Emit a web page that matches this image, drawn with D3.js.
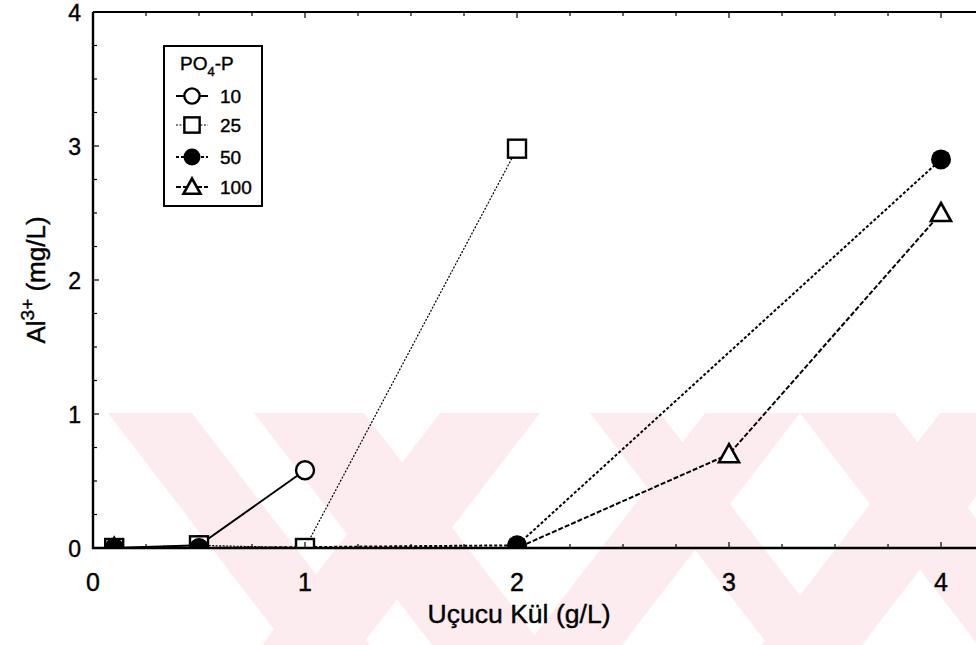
<!DOCTYPE html>
<html>
<head>
<meta charset="UTF-8">
<title>Al3+ - Uçucu Kül</title>
<script src="https://d3js.org/d3.v7.min.js"></script>
<style>
    body { margin: 0; background: #fff; }
    svg { font-family: "Liberation Sans", Arial, sans-serif; }
    .lbl { stroke: #000; stroke-width: 0.4px; }
</style>
</head>
<body>
<svg id="chart" width="976" height="645"></svg>
<script>
    // values
    const series = ["10", "25", "50", "100"];
    const x10 = [0.1, 0.5, 1];
    const y10 = [0, 0.02, 0.58];
    const x25 = [0.1, 0.5, 1, 2];
    const y25 = [0, 0.02, 0, 2.98];
    const x50 = [0.1, 0.5, 2, 4];
    const y50 = [0, 0, 0.02, 2.9];
    const x100 = [0.1, 0.5, 2, 3, 4];
    const y100 = [0, 0, 0, 0.7, 2.5];
    const xTicks = [0, 1, 2, 3, 4];
    const yTicks = [0, 1, 2, 3, 4];

    const svg = d3.select('#chart');
    const plotL = 93, plotR = 976, plotT = 12, plotB = 548;

    const x = d3.scaleLinear().domain([0, 4.165]).range([plotL, plotR]);
    const y = d3.scaleLinear().domain([0, 4]).range([plotB, plotT]);

    // faint watermark bands behind the plot
    const wm = svg.append('g').attr('fill', '#fdecef');
    const h = 232, shift = 178, y0 = 413;
    const bands = [
        [108, 84, 1], [254, 110, 1], [440, 100, -1], [590, 70, 1],
        [705, 95, -1], [800, 95, 1], [940, 100, -1]
    ];
    bands.forEach(b => {
        const [bx, bw, dir] = b;
        wm.append('path').attr('d',
            `M${bx},${y0}L${bx + bw},${y0}L${bx + bw + dir * shift},${y0 + h}L${bx + dir * shift},${y0 + h}Z`);
    });

    svg.append('defs').append('clipPath').attr('id', 'plot')
        .append('rect').attr('x', plotL).attr('y', plotT)
        .attr('width', plotR - plotL).attr('height', plotB - plotT);

    const data = [
        {name: "10", xs: x10, ys: y10, dash: null, width: 2},
        {name: "25", xs: x25, ys: y25, dash: "2,1.5", width: 1.2},
        {name: "50", xs: x50, ys: y50, dash: "3,2", width: 2},
        {name: "100", xs: x100, ys: y100, dash: "5,2", width: 2}
    ];

    const line = d3.line().x(d => x(d[0])).y(d => y(d[1]));

    function marker(g, name, cx, cy, s) {
        if (name === "10") {
            g.append('circle').attr('cx', cx).attr('cy', cy).attr('r', 9 * s)
                .attr('fill', '#fff').attr('stroke', '#000').attr('stroke-width', 2.4);
        } else if (name === "25") {
            g.append('rect').attr('x', cx - 9 * s).attr('y', cy - 9 * s)
                .attr('width', 18 * s).attr('height', 18 * s)
                .attr('fill', '#fff').attr('stroke', '#000').attr('stroke-width', 2.4);
        } else if (name === "50") {
            g.append('circle').attr('cx', cx).attr('cy', cy).attr('r', 10 * s).attr('fill', '#000');
        } else {
            const r = 10 * s;
            g.append('path')
                .attr('d', `M${cx},${cy - r}L${cx + r},${cy + r * 0.8}L${cx - r},${cy + r * 0.8}Z`)
                .attr('fill', '#fff').attr('stroke', '#000').attr('stroke-width', 2.6);
        }
    }

    const plot = svg.append('g').attr('clip-path', 'url(#plot)');
    data.forEach(s => {
        const pts = s.xs.map((v, i) => [v, s.ys[i]]);
        plot.append('path').attr('d', line(pts))
            .attr('fill', 'none').attr('stroke', '#000')
            .attr('stroke-width', s.width)
            .attr('stroke-dasharray', s.dash);
    });
    // draw order so the overlapped points near zero come out dark as in the scan
    [3, 0, 1, 2].forEach(k => {
        const s = data[k];
        s.xs.forEach((v, i) => marker(plot, s.name, x(v), y(s.ys[i]), 1));
    });

    // axes with inward ticks
    const minorX = d3.range(0, 4.2, 0.25);
    const minorY = d3.range(0, 4.01, 0.25);
    const ax = svg.append('g').attr('stroke', '#000');
    ax.append('line').attr('x1', plotL).attr('x2', plotR).attr('y1', plotT).attr('y2', plotT).attr('stroke-width', 1.8);
    ax.append('line').attr('x1', plotL).attr('x2', plotL).attr('y1', plotT).attr('y2', plotB + 1).attr('stroke-width', 2.4);
    ax.append('line').attr('x1', plotL - 1).attr('x2', plotR).attr('y1', plotB).attr('y2', plotB).attr('stroke-width', 2.4);
    minorX.forEach(v => {
        const len = Number.isInteger(v) ? 6 : 4;
        ax.append('line').attr('x1', x(v)).attr('x2', x(v)).attr('y1', plotB).attr('y2', plotB - len).attr('stroke-width', 1.2);
        ax.append('line').attr('x1', x(v)).attr('x2', x(v)).attr('y1', plotT).attr('y2', plotT + len).attr('stroke-width', 1.2);
    });
    minorY.forEach(v => {
        const len = Number.isInteger(v) ? 6 : 4;
        ax.append('line').attr('x1', plotL).attr('x2', plotL + len).attr('y1', y(v)).attr('y2', y(v)).attr('stroke-width', 1.2);
    });

    svg.append('g').selectAll('text').data(xTicks).join('text').attr('class', 'lbl')
        .attr('x', d => x(d)).attr('y', 591)
        .attr('text-anchor', 'middle').attr('font-size', 25).text(d => d);
    svg.append('g').selectAll('text').data(yTicks).join('text').attr('class', 'lbl')
        .attr('x', 81).attr('y', d => y(d) + 9)
        .attr('text-anchor', 'end').attr('font-size', 23).text(d => d);

    svg.append('text').attr('class', 'lbl').attr('x', 519).attr('y', 623).attr('text-anchor', 'middle')
        .attr('font-size', 26).attr('textLength', 183).attr('lengthAdjust', 'spacingAndGlyphs')
        .text('Uçucu Kül (g/L)');

    const yt = svg.append('text').attr('class', 'lbl').attr('transform', 'translate(45,280) rotate(-90)')
        .attr('text-anchor', 'middle').attr('font-size', 26);
    yt.append('tspan').text('Al');
    yt.append('tspan').attr('font-size', 19).attr('dy', -11).text('3+');
    yt.append('tspan').attr('dy', 11).text(' (mg/L)');

    // legend
    const lg = svg.append('g');
    lg.append('rect').attr('x', 164).attr('y', 46).attr('width', 98).attr('height', 160)
        .attr('fill', '#fff').attr('stroke', '#000').attr('stroke-width', 2);
    const lt = lg.append('text').attr('class', 'lbl').attr('x', 180).attr('y', 70).attr('font-size', 19);
    lt.append('tspan').text('PO');
    lt.append('tspan').attr('font-size', 13).attr('dy', 6).text('4');
    lt.append('tspan').attr('dy', -6).text('-P');
    const rows = [96, 125, 157, 187];
    data.forEach((s, i) => {
        lg.append('line').attr('x1', 176).attr('x2', 208).attr('y1', rows[i]).attr('y2', rows[i])
            .attr('stroke', '#000').attr('stroke-width', s.width).attr('stroke-dasharray', s.dash);
        marker(lg, s.name, 192, rows[i], 0.85);
        lg.append('text').attr('class', 'lbl').attr('x', 220).attr('y', rows[i] + 7).attr('font-size', 19)
            .text(s.name);
    });
</script>
</body>
</html>
